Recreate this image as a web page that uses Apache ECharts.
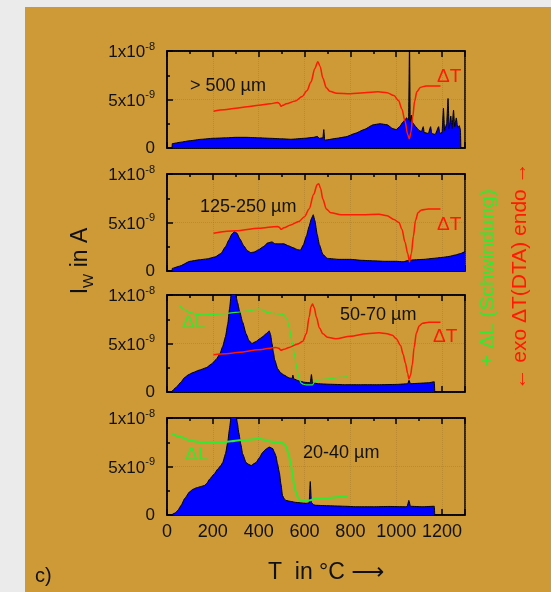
<!DOCTYPE html>
<html>
<head>
<meta charset="utf-8">
<script src="https://cdn.jsdelivr.net/npm/echarts@6/dist/echarts.min.js"></script>
<style>
  html, body { margin: 0; padding: 0; background: #ebebeb; }
  #container { width: 551px; height: 592px; }
</style>
</head>
<body>
<div id="container"></div>
<script>
// x: T in °C, y: I_W in units of 1e-9 A (DTA / dilatometer curves drawn on the same scale)
const xTicks = [0, 200, 400, 600, 800, 1000, 1200];
const panelNames = ['> 500 µm', '125-250 µm', '50-70 µm', '20-40 µm'];

const iw500 = [[22,0],[23,0.45],[60,0.6],[100,0.75],[150,0.9],[200,1.0],[260,1.05],[300,1.1],[345,1.1],[400,1.05],[450,1.0],[500,0.95],[540,0.9],[600,1.0],[640,1.1],[655,1.2],[665,1.0],[680,1.05],[684,1.9],[688,0.8],[700,0.85],[740,1.0],[780,1.15],[820,1.5],[860,1.9],[900,2.4],[930,2.5],[960,2.4],[985,2.0],[1000,1.9],[1015,2.2],[1030,2.7],[1045,3.1],[1054,2.9],[1058,11],[1061,2.7],[1066,3.4],[1072,2.6],[1085,2.2],[1100,1.8],[1110,1.7],[1118,2.2],[1122,1.6],[1140,1.5],[1150,2.2],[1155,1.5],[1170,1.4],[1185,2.2],[1190,1.5],[1200,1.6],[1206,4.1],[1211,1.8],[1220,2.5],[1226,5.1],[1231,2.0],[1238,3.3],[1243,2.0],[1250,3.9],[1255,2.2],[1262,3.1],[1268,2.1],[1275,2.3],[1280,1.9],[1282,0]];
const dt500 = [[203,3.8],[250,3.95],[300,4.1],[350,4.25],[400,4.4],[450,4.55],[483,4.7],[490,4.6],[497,4.3],[505,4.4],[520,4.55],[560,4.85],[590,5.3],[610,5.9],[628,6.8],[645,8.2],[658,8.9],[668,8.4],[680,7.2],[695,6.2],[710,5.85],[740,5.65],[800,5.6],[860,5.7],[920,5.8],[960,5.7],[990,5.4],[1010,4.9],[1025,4.0],[1038,2.8],[1050,1.4],[1057,0.95],[1064,1.6],[1072,3.2],[1080,4.8],[1090,5.8],[1105,6.25],[1130,6.4],[1193,6.4]];

const iw125 = [[22,0],[23,0.27],[55,0.5],[100,1.0],[140,1.15],[175,1.25],[210,1.45],[235,1.8],[255,2.5],[270,3.2],[283,3.8],[294,4.05],[305,3.9],[318,3.3],[335,2.6],[350,2.1],[365,1.9],[380,1.95],[400,2.2],[420,2.5],[440,2.9],[458,3.0],[472,2.8],[490,2.8],[510,2.8],[530,2.6],[550,2.4],[570,2.2],[582,2.15],[595,2.7],[608,3.6],[620,4.6],[630,5.4],[638,5.8],[645,5.2],[655,3.8],[665,2.7],[680,1.7],[700,1.3],[750,1.2],[800,1.2],[850,1.1],[900,1.05],[950,1.0],[1000,1.0],[1030,0.95],[1055,1.1],[1080,1.15],[1120,1.2],[1160,1.3],[1200,1.4],[1230,1.5],[1258,1.65],[1280,1.8],[1300,2.0]];
const dt125 = [[203,3.9],[300,4.15],[400,4.4],[483,4.6],[490,4.5],[497,4.3],[510,4.45],[540,4.75],[575,5.1],[600,5.6],[620,6.4],[640,7.9],[655,8.9],[662,9.0],[670,8.5],[680,7.4],[695,6.4],[715,6.0],[760,5.8],[850,5.8],[925,5.85],[960,5.7],[990,5.3],[1012,5.0],[1025,4.3],[1038,3.0],[1050,1.8],[1058,0.96],[1066,1.8],[1075,3.6],[1084,5.2],[1095,6.0],[1110,6.3],[1140,6.4],[1193,6.4]];

const iw50 = [[19,0],[41,0.5],[60,1.0],[77,1.5],[95,1.8],[113,2.0],[140,2.25],[171,2.5],[195,2.9],[214,3.35],[230,3.9],[243,4.7],[255,5.7],[265,7.0],[273,8.6],[280,10.1],[299,10.1],[308,9.2],[316,8.4],[330,7.2],[345,6.0],[358,5.3],[370,5.0],[388,5.2],[405,5.5],[417,5.7],[432,6.0],[446,6.3],[452,5.9],[458,5.0],[464,4.1],[470,3.3],[483,2.4],[495,2.0],[510,1.75],[533,1.45],[546,1.4],[549,1.75],[553,1.35],[575,1.15],[600,1.0],[625,0.95],[630,1.8],[635,0.95],[660,0.85],[707,0.8],[780,0.75],[850,0.75],[920,0.75],[1000,0.78],[1050,0.85],[1056,1.2],[1062,0.85],[1100,0.9],[1140,0.95],[1166,1.05],[1168,0]];
const dl50 = [[55,8.9],[75,8.5],[99,8.2],[130,8.0],[157,7.95],[200,8.0],[243,8.05],[300,8.2],[350,8.35],[403,8.55],[420,8.45],[432,8.2],[460,8.1],[490,8.05],[510,7.95],[522,7.6],[533,6.7],[544,5.3],[555,4.0],[563,2.9],[570,2.0],[578,1.3],[584,0.95],[595,0.8],[606,0.74],[635,0.74],[645,1.1],[660,1.25],[707,1.35],[750,1.5],[788,1.6]];
const dt50 = [[203,3.85],[260,3.95],[316,4.1],[400,4.35],[475,4.6],[488,4.5],[497,4.3],[510,4.4],[533,4.6],[570,4.95],[591,5.2],[608,6.0],[620,7.7],[628,8.8],[635,9.06],[642,8.7],[652,7.7],[665,6.6],[680,6.0],[700,5.65],[736,5.5],[800,5.75],[870,6.0],[925,6.1],[960,6.0],[983,5.85],[1000,5.5],[1019,4.8],[1030,3.9],[1040,3.0],[1050,1.9],[1055,1.35],[1062,1.7],[1070,2.8],[1078,4.6],[1088,6.1],[1100,6.8],[1115,7.1],[1142,7.2],[1193,7.2]];

const iw20 = [[19,0],[35,0.2],[48,0.5],[62,1.0],[77,1.7],[99,2.4],[113,2.65],[128,2.8],[150,2.95],[164,3.05],[175,3.3],[186,3.7],[205,4.2],[222,4.75],[235,5.1],[243,5.4],[255,6.3],[265,7.5],[272,8.8],[280,10.2],[301,10.3],[307,9.5],[313,8.5],[322,7.3],[330,6.3],[345,5.4],[358,5.2],[367,5.1],[380,5.3],[388,5.4],[403,5.9],[417,6.45],[432,6.8],[446,7.0],[461,6.85],[468,6.5],[475,6.1],[482,5.3],[490,4.4],[497,3.2],[504,2.0],[512,1.65],[519,1.5],[540,1.4],[562,1.3],[606,1.2],[620,1.25],[625,3.45],[630,1.3],[640,1.05],[649,1.0],[707,0.95],[780,0.9],[823,0.85],[900,0.85],[968,0.88],[1040,0.85],[1048,0.9],[1055,1.5],[1062,0.9],[1113,0.85],[1166,0.9],[1168,0]];
const dl20 = [[23,8.4],[60,8.05],[99,7.7],[130,7.55],[157,7.5],[200,7.5],[243,7.5],[280,7.6],[316,7.7],[360,7.75],[403,7.85],[425,7.75],[446,7.6],[470,7.5],[497,7.45],[510,7.35],[519,7.1],[530,6.3],[541,5.1],[548,4.0],[555,3.05],[562,2.4],[570,1.85],[580,1.55],[591,1.45],[605,1.45],[620,1.5],[649,1.7],[707,1.75],[750,1.85],[787,1.95]];

const iwData = [iw500, iw125, iw50, iw20];
const dtData = [dt500, dt125, dt50, null];
const dlData = [null, null, dl50, dl20];

var myChart = echarts.init(document.getElementById('container'));

const FONT = 'Liberation Sans, Arial, DejaVu Sans, sans-serif';
const tops = [51, 174, 295, 418];
const gold = '#cd9a37';
const red = '#ff1a00';
const green = '#33e833';

let grids = [], xAxes = [], yAxes = [], series = [];
for (let i = 0; i < 4; i++) {
	grids.push({
		left: 167, width: 298, top: tops[i], height: 97,
		show: true, borderColor: '#000', borderWidth: 1.5,
		backgroundColor: 'transparent', containLabel: false
	});
	// unten
	xAxes.push({
		type: 'value', gridIndex: i, min: 0, max: 1300, interval: 200,
		axisLine: { show: true, lineStyle: { color: '#000', width: 1.5 } },
		axisTick: { show: true, inside: true, length: 6, lineStyle: { color: '#000', width: 1.5 } },
		minorTick: { show: true, splitNumber: 2, length: 3, lineStyle: { color: '#000', width: 1.5 } },
		splitLine: { show: true, lineStyle: { color: 'rgba(150,110,40,0.35)', width: 1, type: 'dotted' } },
		axisLabel: {
			show: i === 3, showMaxLabel: false, margin: 8,
			color: '#111', fontSize: 18, fontFamily: FONT,
			formatter: v => (xTicks.indexOf(v) >= 0 ? String(v) : '')
		}
	});
	// oben, nur Ticks
	xAxes.push({
		type: 'value', gridIndex: i, position: 'top', min: 0, max: 1300, interval: 200,
		axisLine: { show: true, lineStyle: { color: '#000', width: 1.5 } },
		axisTick: { show: true, inside: true, length: 6, lineStyle: { color: '#000', width: 1.5 } },
		minorTick: { show: true, splitNumber: 2, length: 3, lineStyle: { color: '#000', width: 1.5 } },
		splitLine: { show: false },
		axisLabel: { show: false }
	});
	yAxes.push({
		type: 'value', gridIndex: i, min: 0, max: 10, interval: 5,
		axisLine: { show: true, lineStyle: { color: '#000', width: 1.5 } },
		axisTick: { show: true, inside: true, length: 6, lineStyle: { color: '#000', width: 1.5 } },
		minorTick: { show: true, splitNumber: 2, length: 3, lineStyle: { color: '#000', width: 1.5 } },
		splitLine: { show: true, lineStyle: { color: 'rgba(150,110,40,0.35)', width: 1, type: 'dotted' } },
		axisLabel: {
			margin: 12, color: '#111', fontFamily: FONT,
			formatter: function (v) {
				if (v === 0) return '{b|0}';
				if (v === 5) return '{b|5x10}{s|-9}';
				if (v === 10) return '{b|1x10}{s|-8}';
				return '';
			},
			rich: {
				b: { fontSize: 17, fontFamily: FONT, color: '#111', verticalAlign: 'bottom' },
				s: { fontSize: 11, fontFamily: FONT, color: '#111', verticalAlign: 'bottom', padding: [0, 0, 9, 0] }
			}
		}
	});
	series.push({
		type: 'line', xAxisIndex: 2 * i, yAxisIndex: i, data: iwData[i],
		showSymbol: false, smooth: 0.15, smoothMonotone: 'x', clip: true,
		lineStyle: { color: '#000', width: 1 },
		areaStyle: { color: '#0000ff', opacity: 1 },
		z: 2
	});
	if (dlData[i]) {
		series.push({
			type: 'line', xAxisIndex: 2 * i, yAxisIndex: i, data: dlData[i],
			showSymbol: false, smooth: 0.3, smoothMonotone: 'x', clip: true,
			lineStyle: { color: green, width: i === 3 ? 2 : 1.2 }, z: 3
		});
	}
	if (dtData[i]) {
		series.push({
			type: 'line', xAxisIndex: 2 * i, yAxisIndex: i, data: dtData[i],
			showSymbol: false, smooth: 0.3, smoothMonotone: 'x', clip: true,
			lineStyle: { color: red, width: 1.5 }, z: 4
		});
	}
}

function txt(x, y, text, color, size, extra) {
	return Object.assign({
		type: 'text', x: x, y: y, z: 10,
		style: { text: text, fill: color, fontSize: size, fontFamily: FONT, align: 'left', verticalAlign: 'middle' }
	}, extra || {});
}

const graphics = [
	{ type: 'rect', shape: { x: 25, y: 7, width: 526, height: 585 }, style: { fill: gold }, z: -10 },
	txt(190, 86, panelNames[0], '#111', 18),
	txt(200, 207, panelNames[1], '#111', 18),
	txt(340, 315, panelNames[2], '#111', 18),
	txt(303, 453, panelNames[3], '#111', 18),
	txt(437, 77, 'ΔT', red, 19),
	txt(437, 225, 'ΔT', red, 19),
	txt(433, 337, 'ΔT', red, 19),
	txt(182, 323, 'ΔL', green, 19),
	txt(185, 455, 'ΔL', green, 19),
	txt(35, 576, 'c)', '#111', 20),
	txt(268, 573, 'T  in °C ⟶', '#111', 23),
	{
		type: 'text', x: 83, y: 261, rotation: Math.PI / 2, z: 10,
		style: {
			text: '{a|I}{w|W}{a| in A}', align: 'center', verticalAlign: 'middle',
			rich: {
				a: { fontSize: 23, fontFamily: FONT, fill: '#111', verticalAlign: 'top' },
				w: { fontSize: 15, fontFamily: FONT, fill: '#111', verticalAlign: 'top', padding: [12, 0, 0, 0] }
			}
		}
	},
	{
		type: 'text', x: 488, y: 278, rotation: Math.PI / 2, z: 10,
		style: { text: '+ ΔL (Schwindung)', fill: green, fontSize: 21, fontFamily: FONT, align: 'center', verticalAlign: 'middle' }
	},
	{
		type: 'text', x: 520, y: 276, rotation: Math.PI / 2, z: 10,
		style: { text: '← exo ΔT(DTA) endo →', fill: red, fontSize: 21, fontFamily: FONT, align: 'center', verticalAlign: 'middle' }
	}
];

var option = {
	backgroundColor: '#ebebeb',
	animation: false,
	grid: grids,
	xAxis: xAxes,
	yAxis: yAxes,
	series: series,
	graphic: graphics
};
myChart.setOption(option);
</script>
</body>
</html>
